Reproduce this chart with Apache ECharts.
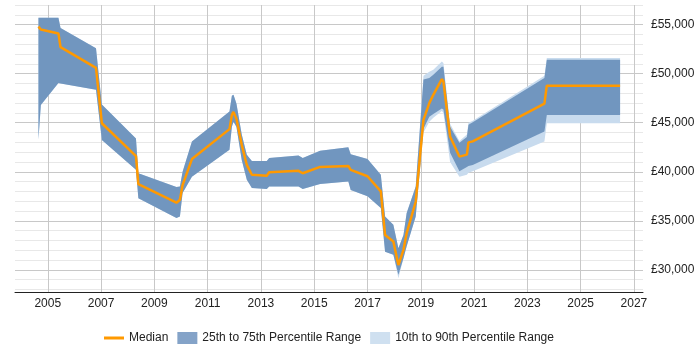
<!DOCTYPE html>
<html>
<head>
<meta charset="utf-8">
<script src="https://cdn.jsdelivr.net/npm/echarts@6/dist/echarts.min.js"></script>
<style>
  html, body { margin: 0; padding: 0; background: #fff; }
  #chart { width: 700px; height: 350px; }
</style>
</head>
<body>
<div id="chart"></div>
<script>
// dates as decimal years
var years = [2004.65, 2004.74, 2005.40, 2005.48, 2006.81, 2007.03, 2008.31, 2008.40, 2009.83, 2009.96,
  2010.06, 2010.41, 2011.82, 2011.91, 2011.97, 2012.08, 2012.28, 2012.47, 2012.66, 2013.22,
  2013.31, 2014.41, 2014.57, 2015.22, 2016.28, 2016.37, 2017.00, 2017.50, 2017.66, 2017.97,
  2018.16, 2018.35, 2018.47, 2018.81, 2019.10, 2019.32, 2019.47, 2019.79, 2019.85, 2020.10,
  2020.45, 2020.73, 2020.79, 2020.95, 2023.64, 2023.73, 2026.48];

var median = [54800, 54500, 54100, 52700, 50600, 44950, 41600, 38750, 36850, 37150,
  38650, 41300, 44350, 45800, 46100, 45400, 42750, 40700, 39700, 39600,
  39950, 40100, 39850, 40500, 40600, 40200, 39550, 38000, 33550, 32900,
  30500, 32050, 33750, 36950, 45300, 47000, 47850, 49450, 49200, 43600,
  41550, 41750, 43000, 43100, 46950, 48780, 48780];

var p25 = [43300, 46800, 49050, 49000, 48350, 43250, 40200, 37300, 35300, 35450,
  37850, 39500, 42250, 44600, 45100, 44600, 41200, 39200, 38350, 38250,
  38500, 38500, 38250, 38750, 39000, 38150, 37500, 36300, 31850, 31550,
  29500, 31200, 32400, 35450, 44400, 45600, 45900, 46450, 46350, 41950,
  40050, 40500, 40600, 40700, 44100, 45800, 45800];

var p75 = [55700, 55700, 55700, 54650, 52600, 46850, 43400, 39850, 38450, 38500,
  40000, 43100, 46150, 47750, 47850, 46950, 43800, 41750, 41100, 41100,
  41400, 41650, 41400, 42150, 42500, 41800, 41300, 39700, 35450, 34600,
  32200, 33550, 35800, 38500, 49400, 49550, 49900, 50700, 50700, 44600,
  42950, 43550, 44800, 45050, 49550, 51430, 51430];

var p10 = [43300, 46800, 49050, 49000, 48350, 43250, 40200, 37300, 35300, 35450,
  37850, 39500, 42250, 44600, 45100, 44600, 41200, 39200, 38350, 38250,
  38500, 38500, 38250, 38750, 39000, 38150, 37500, 36300, 31850, 31550,
  29150, 31200, 32400, 35450, 44000, 45100, 45500, 46200, 46000, 41000,
  39500, 39700, 39900, 40050, 43100, 44950, 44950];

var p90 = [55700, 55700, 55700, 54650, 52600, 46850, 43400, 39850, 38450, 38500,
  40000, 43100, 46150, 47750, 47850, 46950, 43800, 41750, 41100, 41100,
  41400, 41650, 41400, 42150, 42500, 41800, 41300, 39700, 35450, 34600,
  32200, 33550, 35800, 38500, 49800, 50200, 50400, 51250, 51100, 44900,
  43150, 43800, 45000, 45200, 49800, 51600, 51600];

var yearTicks = [2005, 2007, 2009, 2011, 2013, 2015, 2017, 2019, 2021, 2023, 2025, 2027];
var salaryTicks = [30000, 35000, 40000, 45000, 50000, 55000];
var minorTicks = [28000, 29000, 31000, 32000, 33000, 34000, 36000, 37000, 38000, 39000,
  41000, 42000, 43000, 44000, 46000, 47000, 48000, 49000, 51000, 52000,
  53000, 54000, 56000, 57000];

var DARK = '#7196bf';
var LIGHT = '#c8dbee';
var ORANGE = '#ff9900';

var chart = echarts.init(document.getElementById('chart'));

// filled band between lo and hi, one polygon through the axis scales
function band(name, lo, hi, color, z) {
  return {
    name: name, type: 'custom', z: z, silent: true,
    itemStyle: { color: color },
    data: years.map(function (x, i) { return [x, lo[i], hi[i]]; }),
    encode: { x: 0, y: [1, 2] },
    renderItem: function (params, api) {
      if (params.dataIndex !== 0) return null;
      var pts = [];
      for (var i = 0; i < years.length; i++) pts.push(api.coord([years[i], hi[i]]));
      for (var j = years.length - 1; j >= 0; j--) pts.push(api.coord([years[j], lo[j]]));
      return { type: 'polygon', shape: { points: pts }, style: { fill: color } };
    }
  };
}

function gridLines(color, xs, ys) {
  var d = [];
  xs.forEach(function (v) { d.push({ xAxis: v }); });
  ys.forEach(function (v) { d.push({ yAxis: v }); });
  return {
    type: 'line', z: 1, silent: true, data: [],
    markLine: { z: 1, silent: true, symbol: 'none', label: { show: false }, animation: false,
      lineStyle: { color: color, width: 1, type: 'solid' }, data: d }
  };
}

chart.setOption({
  animation: false,
  textStyle: { fontFamily: 'Liberation Sans, Arial, sans-serif' },
  grid: { left: 15, right: 57, top: 5, bottom: 58 },
  legend: {
    left: 99, top: 327,
    itemWidth: 20, itemHeight: 12, itemGap: 9,
    textStyle: { fontSize: 12, color: '#222' },
    data: [
      { name: 'Median', icon: 'path://M0 0H20V3H0Z', itemStyle: { color: ORANGE } },
      { name: '25th to 75th Percentile Range', icon: 'rect', itemStyle: { color: '#84a3c8' } },
      { name: '10th to 90th Percentile Range', icon: 'rect', itemStyle: { color: '#cfe0f0' } }
    ]
  },
  xAxis: {
    type: 'value', min: 2003.77, max: 2027.34,
    axisLine: { lineStyle: { color: '#222', width: 1 } },
    axisTick: { show: false },
    axisLabel: { customValues: yearTicks, color: '#222', fontSize: 12, margin: 6,
      formatter: function (v) { return String(v); } },
    splitLine: { show: false }
  },
  yAxis: {
    type: 'value', position: 'right', min: 27750, max: 57000,
    axisLine: { show: false },
    axisTick: { show: false },
    axisLabel: { customValues: salaryTicks, color: '#222', fontSize: 12, margin: 8,
      formatter: function (v) { return '£' + v.toLocaleString('en-GB'); } },
    splitLine: { show: false }
  },
  series: [
    gridLines('#e8e8e8', [], minorTicks),
    gridLines('#c8c8c8', yearTicks, salaryTicks),
    band('10th to 90th Percentile Range', p10, p90, LIGHT, 3),
    band('25th to 75th Percentile Range', p25, p75, DARK, 4),
    { name: 'Median', type: 'line', z: 5, symbol: 'none', silent: true,
      lineStyle: { width: 2.5, color: ORANGE }, itemStyle: { color: ORANGE },
      data: years.map(function (x, i) { return [x, median[i]]; }) }
  ]
});
</script>
</body>
</html>
